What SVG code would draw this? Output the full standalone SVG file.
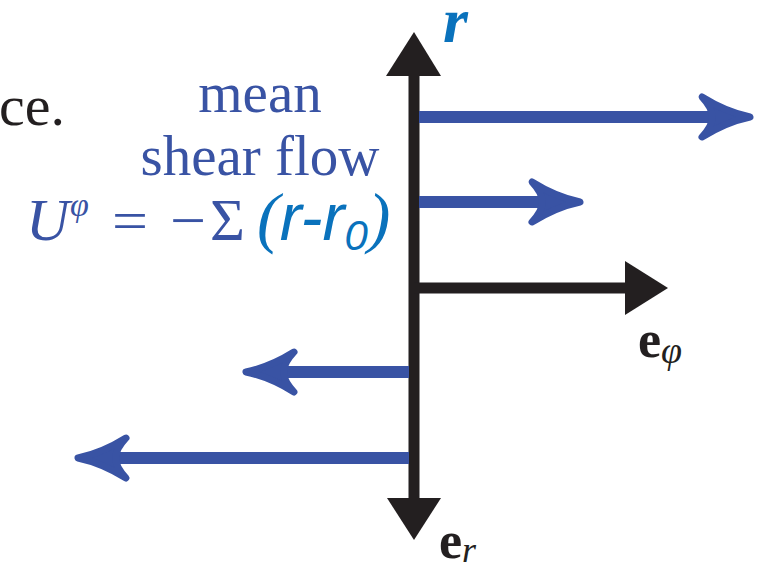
<svg xmlns="http://www.w3.org/2000/svg" width="767" height="574" viewBox="0 0 767 574">
<style>
.serif{font-family:"Liberation Serif","DejaVu Serif",serif;}
.blue{fill:#3953a4;}
.lblue{fill:#0a72bc;}
.blk{fill:#231f20;}
.bshaft{stroke:#3953a4;stroke-width:12;fill:none;}
.kshaft{stroke:#231f20;stroke-width:11;fill:none;}
.bhead{fill:#3953a4;stroke:#3953a4;stroke-width:7;stroke-linejoin:round;}
</style>
<defs>
<path id="bh" d="M0,0 Q-24,-5 -48,-20 Q-37,-8 -38,0 Q-37,8 -48,20 Q-24,5 0,0 Z"/>
</defs>
<rect width="767" height="574" fill="#fff"/>
<g id="labels">
<text class="serif blk" x="-1" y="125" font-size="58">ce.</text>
<text class="serif blue" x="260" y="112" font-size="57" text-anchor="middle">mean</text>
<text class="serif blue" x="260" y="175" font-size="57" text-anchor="middle">shear flow</text>
<text class="serif blue" x="26" y="240" font-size="60" font-style="italic">U</text>
<text class="serif blue" x="70" y="216" font-size="34" font-style="italic">φ</text>
<text class="serif blue" x="112" y="240" font-size="58" textLength="36" lengthAdjust="spacingAndGlyphs">=</text>
<text class="serif blue" x="170" y="240" font-size="58" textLength="36" lengthAdjust="spacingAndGlyphs">−</text>
<text class="serif blue" x="210" y="240" font-size="60">Σ</text>
<text x="257" y="240" font-size="66" font-style="italic" font-family="Liberation Sans, Arial, sans-serif" class="lblue"><tspan font-family="Liberation Serif, serif" font-size="68">(</tspan>r-r<tspan font-size="42" dy="10">0</tspan><tspan font-family="Liberation Serif, serif" font-size="68" dy="-10">)</tspan></text>
<text class="serif lblue" x="443" y="42" font-size="64" font-style="italic" font-weight="bold">r</text>
<text class="serif blk" x="638" y="357" font-size="52" font-weight="bold">e<tspan font-size="38" font-weight="normal" font-style="italic" dy="6">φ</tspan></text>
<text class="serif blk" x="439" y="558" font-size="52" font-weight="bold">e<tspan font-size="36" font-weight="normal" font-style="italic" dy="4">r</tspan></text>
</g>
<g id="connectors">
<g id="axis-r">
<line class="kshaft" x1="414" y1="70" x2="414" y2="504"/>
<polygon class="blk" points="414,32 386,76 441,76"/>
<polygon class="blk" points="414,540 387,498 441,498"/>
</g>
<g id="axis-phi">
<line class="kshaft" x1="414" y1="288" x2="630" y2="288"/>
<polygon class="blk" points="668,288 625,261 625,315"/>
</g>
<g id="flow1">
<line class="bshaft" x1="419" y1="117" x2="735" y2="117"/>
<use href="#bh" class="bhead" transform="translate(750,117)"/>
</g>
<g id="flow2">
<line class="bshaft" x1="419" y1="202" x2="565" y2="202"/>
<use href="#bh" class="bhead" transform="translate(580,202)"/>
</g>
<g id="flow3">
<line class="bshaft" x1="409" y1="372" x2="260" y2="372"/>
<use href="#bh" class="bhead" transform="translate(246,372) rotate(180)"/>
</g>
<g id="flow4">
<line class="bshaft" x1="409" y1="458" x2="92" y2="458"/>
<use href="#bh" class="bhead" transform="translate(78,458) rotate(180)"/>
</g>
</g>
</svg>
